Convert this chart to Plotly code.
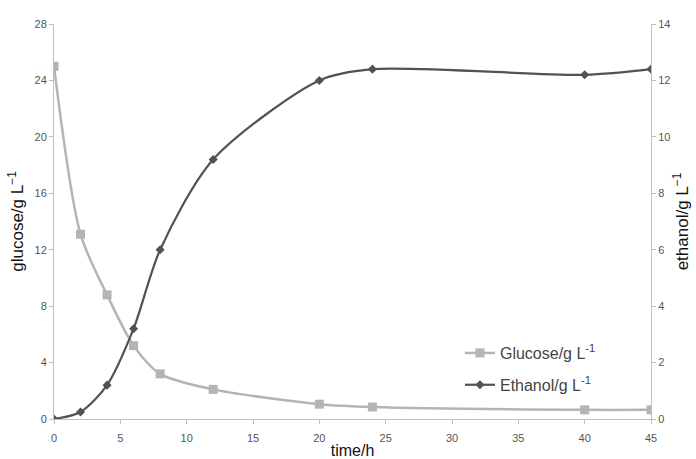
import plotly.graph_objects as go

time_h = [0, 2, 4, 6, 8, 12, 20, 24, 40, 45]
glucose = [25.0, 13.1, 8.8, 5.2, 3.2, 2.1, 1.05, 0.85, 0.65, 0.65]
ethanol = [0.0, 0.25, 1.2, 3.2, 6.0, 9.2, 12.0, 12.4, 12.2, 12.4]

fig = go.Figure()
fig.add_trace(go.Scatter(
    x=time_h, y=glucose, name="Glucose/g L<sup>-1</sup>", legendgroup="g",
    mode="lines+markers", line=dict(color="#b4b4b4", width=2.5, shape="spline", smoothing=0.8),
    marker=dict(symbol="square", size=9, color="#b4b4b4"), yaxis="y"))
fig.add_trace(go.Scatter(
    x=time_h, y=ethanol, name="Ethanol/g L<sup>-1</sup>", legendgroup="e",
    mode="lines+markers", line=dict(color="#525252", width=2.2, shape="spline", smoothing=0.8),
    marker=dict(symbol="diamond", size=7, color="#525252"), yaxis="y2"))

axis_common = dict(showgrid=False, zeroline=False, showline=True, linecolor="#bfbfbf", linewidth=1,
                   ticks="outside", ticklen=4, tickcolor="#bfbfbf", automargin=False,
                   tickfont=dict(family="Liberation Sans, Arial", size=11, color="#555"))

fig.update_layout(
    width=696, height=459, paper_bgcolor="white", plot_bgcolor="white",
    margin=dict(l=54, r=45, t=24, b=40),
    xaxis=dict(range=[0, 45], tickvals=[0, 5, 10, 15, 20, 25, 30, 35, 40, 45],
               ticklabelstandoff=5,
               title=dict(text="time/h", font=dict(family="Liberation Sans, Arial", size=16, color="#111"), standoff=2),
               **axis_common),
    yaxis=dict(range=[0, 28], tickvals=[0, 4, 8, 12, 16, 20, 24, 28],
               title=dict(text="glucose/g L<sup>−1</sup>", font=dict(family="Liberation Sans, Arial", size=17, color="#111"), standoff=6),
               **axis_common),
    yaxis2=dict(range=[0, 14], tickvals=[0, 2, 4, 6, 8, 10, 12, 14], overlaying="y", side="right",
                title=dict(text="ethanol/g L<sup>−1</sup>", font=dict(family="Liberation Sans, Arial", size=17, color="#111"), standoff=6),
                **axis_common),
    legend=dict(x=0.68, y=0.21, xanchor="left", yanchor="top", bgcolor="rgba(0,0,0,0)",
                font=dict(family="Liberation Sans, Arial", size=16, color="#444"),
                traceorder="grouped", tracegroupgap=8),
    showlegend=True,
)

fig.write_html("out.html")
